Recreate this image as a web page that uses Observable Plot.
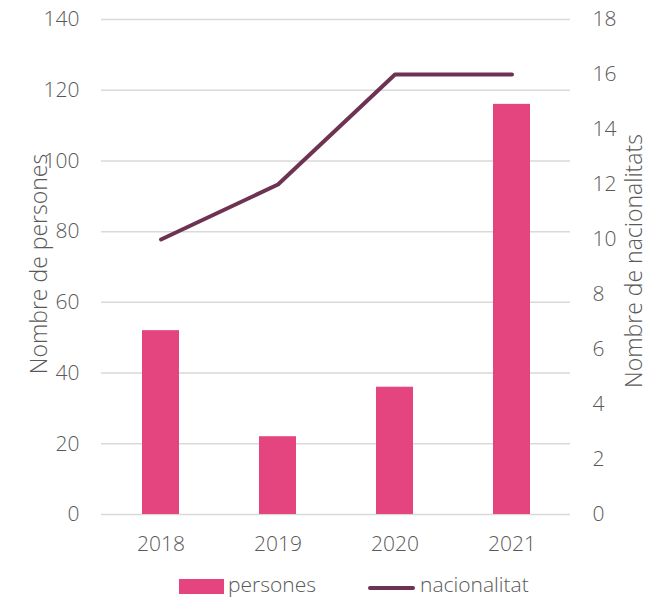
<!DOCTYPE html>
<html><head><meta charset="utf-8">
<script src="https://cdn.jsdelivr.net/npm/d3@7"></script>
<script src="https://cdn.jsdelivr.net/npm/@observablehq/plot@0.6"></script>
<style>
body{margin:0;background:#fff;font-family:"Open Sans",sans-serif;}
#chart{width:659px;}
.legend{position:relative;height:43px;width:659px;font-size:21px;font-weight:300;color:#595959;font-family:"Open Sans",sans-serif;}
.legend .sw{position:absolute;}
.legend .lb{position:absolute;line-height:1;}
</style></head><body><div id="chart"></div>
<script>
const years = ["2018","2019","2020","2021"];
const persones = [52,22,36,116];
const nacionalitats = [10,12,16,16];
const leftTicks = [0,20,40,60,80,100,120,140];
const rightTicks = [0,2,4,6,8,10,12,14,16,18];
const seriesNames = ["persones","nacionalitat"];
const leftTitle = "Nombre de persones";
const rightTitle = "Nombre de nacionalitats";
const ratio = 140/18;
const data = years.map((y,i)=>({year:y, persones:persones[i], nac:nacionalitats[i]}));
const grey = "#595959";
const plot = Plot.plot({
  width:659, height:560, marginTop:19, marginBottom:46, marginLeft:101, marginRight:89,
  style:{fontFamily:"Open Sans", fontSize:"21px", fontWeight:300, color:grey, background:"#fff", overflow:"visible"},
  x:{domain:years, paddingInner:0.684, paddingOuter:0.342, axis:null},
  y:{domain:[0,140], axis:null},
  marks:[
    Plot.gridY(leftTicks, {stroke:"#d9d9d9", strokeOpacity:1, strokeWidth:1.5}),
    Plot.barY(data, {x:"year", y:"persones", fill:"#e5457f"}),
    Plot.lineY(data, {x:"year", y:d=>d.nac*ratio, stroke:"#6e3352", strokeWidth:4, strokeLinecap:"round", strokeLinejoin:"round"}),
    Plot.axisX({tickSize:0, tickPadding:22, fontSize:21, fill:grey, label:null}),
    Plot.axisY(leftTicks, {anchor:"left", tickSize:0, tickPadding:22, fontSize:21, fill:grey, label:null}),
    Plot.axisY(rightTicks.map(t=>t*ratio), {anchor:"right", tickSize:0, tickPadding:22, fontSize:21, fill:grey, tickFormat:d=>String(Math.round(d/ratio)), label:null}),
    Plot.text([leftTitle], {frameAnchor:"left", text:d=>d, rotate:-90, textAnchor:"middle", dx:-62, dy:-3, fontSize:23, fill:grey}),
    Plot.text([rightTitle], {frameAnchor:"right", text:d=>d, rotate:-90, textAnchor:"middle", dx:64, dy:-6, fontSize:23, fill:grey})
  ]
});
document.getElementById("chart").appendChild(plot);
const legend = document.createElement("div");
legend.className = "legend";
legend.innerHTML = `
<div class="sw" style="left:179px;top:19px;width:45px;height:15px;background:#e5457f"></div>
<div class="lb" style="left:228px;top:14px">${seriesNames[0]}</div>
<div class="sw" style="left:368px;top:26px;width:47px;height:4px;border-radius:2px;background:#6e3352"></div>
<div class="lb" style="left:420px;top:14px">${seriesNames[1]}</div>`;
document.getElementById("chart").appendChild(legend);
</script></body></html>
